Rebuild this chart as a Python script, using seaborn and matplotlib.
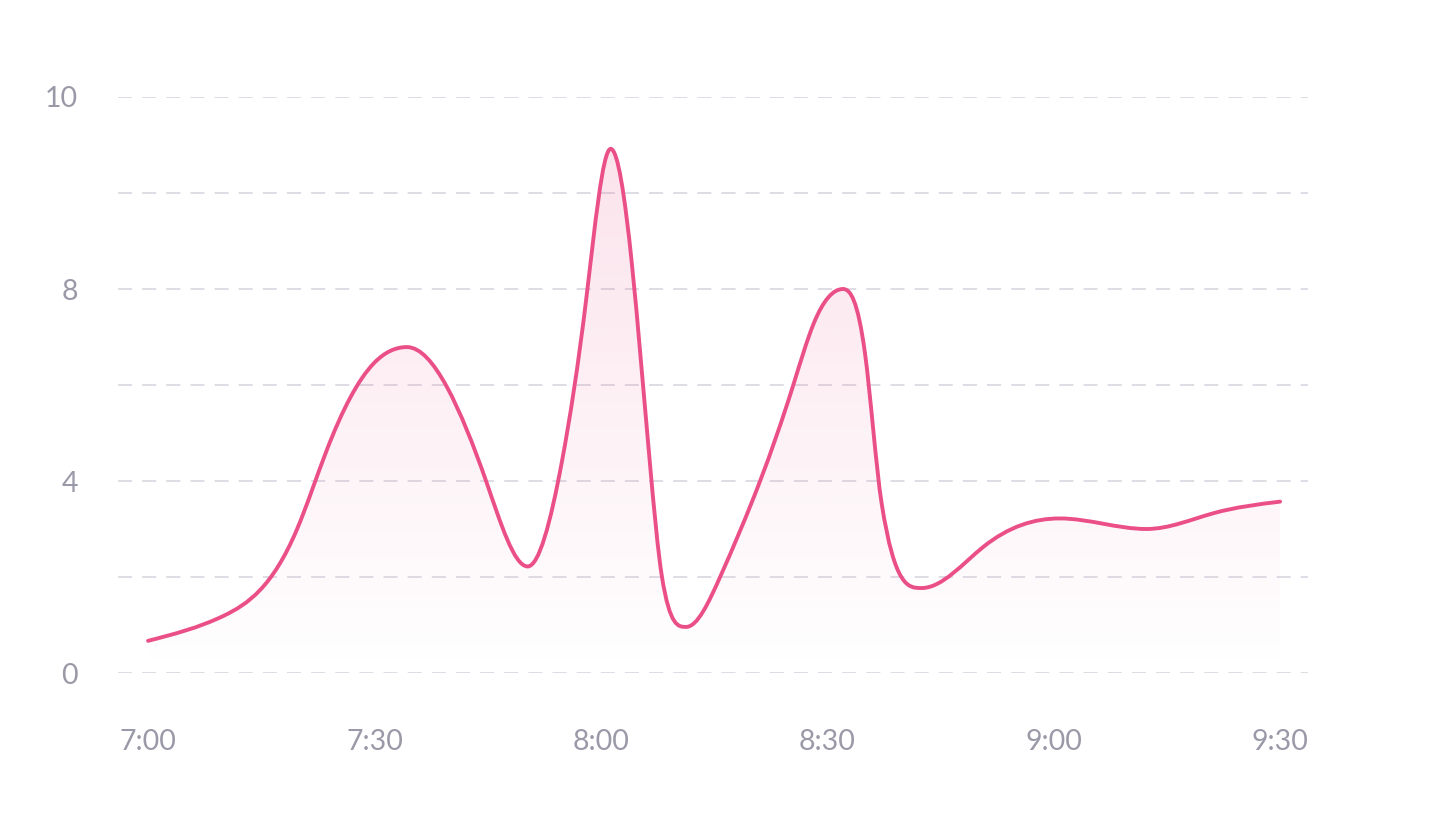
"""Pink smoothed area line: activity between 7:00 and 9:30."""
import matplotlib
matplotlib.use("Agg")

import matplotlib.pyplot as plt  # noqa: E402
import numpy as np  # noqa: E402
import seaborn as sns  # noqa: E402
from matplotlib.colors import to_rgb  # noqa: E402
from matplotlib.patches import PathPatch  # noqa: E402
from matplotlib.path import Path  # noqa: E402

# ── Data (minutes after 7:00, value) ─────────────────────────────────────────
minutes = [0.0, 10.0, 19.7, 23.7, 29.9, 34.3, 39.6, 44.9, 50.3, 54.8,
           58.1, 61.3, 64.1, 66.5, 68.1, 71.3, 75.8, 81.1, 85.5, 88.2,
           92.1, 95.0, 97.2, 102.5, 110.7, 120.8, 132.3, 141.2, 150.0]
values = [0.67, 1.19, 2.98, 4.65, 6.45, 6.79, 5.96, 3.95, 2.22, 4.37,
          7.84, 10.92, 8.54, 4.37, 2.0, 0.96, 2.0, 4.0, 6.0, 7.28,
          8.0, 6.66, 3.54, 1.77, 2.63, 3.22, 3.0, 3.33, 3.57]

x_ticks = [0, 30, 60, 90, 120, 150]
x_labels = ["7:00", "7:30", "8:00", "8:30", "9:00", "9:30"]
y_ticks = [0, 2, 4, 6, 8, 10, 12]
y_labels = ["0", "", "4", "", "8", "", "10"]

LINE = "#eb4f88"
TEXT = "#9a99a8"
GRID = "#d5d3df"


def smooth_path(x, y):
    """Bezier path through the points: C2 spline between extrema, flat at each extremum."""
    x = np.asarray(x, float)
    y = np.asarray(y, float)
    n = len(x)
    h = np.diff(x)
    s = np.diff(y) / h
    A = np.zeros((n, n))
    b = np.zeros(n)
    A[0, :2] = [2, 1]
    b[0] = 3 * s[0]
    A[-1, -2:] = [1, 2]
    b[-1] = 3 * s[-1]
    for i in range(1, n - 1):
        if np.sign(s[i - 1]) != np.sign(s[i]):
            A[i, i] = 1  # local extremum: zero slope
            continue
        A[i, i - 1:i + 2] = [h[i], 2 * (h[i - 1] + h[i]), h[i - 1]]
        b[i] = 3 * (h[i] * s[i - 1] + h[i - 1] * s[i])
    t = np.linalg.solve(A, b)
    # keep each piece monotone
    for i in range(n):
        near = [s[j] for j in (i - 1, i) if 0 <= j < n - 1]
        lim = 3 * min(abs(v) for v in near)
        t[i] = np.clip(t[i], -lim, lim)
    verts = [(x[0], y[0])]
    codes = [Path.MOVETO]
    for i in range(n - 1):
        d = h[i] / 3
        verts += [(x[i] + d, y[i] + d * t[i]), (x[i + 1] - d, y[i + 1] - d * t[i + 1]), (x[i + 1], y[i + 1])]
        codes += [Path.CURVE4] * 3
    return verts, codes


sns.set_theme(style="white")
plt.rcParams["font.family"] = ["Lato", "DejaVu Sans"]

fig = plt.figure(figsize=(14.32, 8.22), dpi=100)
ax = fig.add_axes([118 / 1432, 149 / 822, 1190 / 1432, 576 / 822])

verts, codes = smooth_path(minutes, values)

# gradient area under the curve
area = Path(verts + [(minutes[-1], 0), (minutes[0], 0), verts[0]],
            codes + [Path.LINETO, Path.LINETO, Path.CLOSEPOLY])
area_patch = PathPatch(area, facecolor="none", edgecolor="none")
ax.add_patch(area_patch)
grad = np.zeros((256, 1, 4))
grad[:, 0, :3] = to_rgb(LINE)
grad[:, 0, 3] = np.linspace(0, 0.16, 256)
img = ax.imshow(grad, extent=[minutes[0], minutes[-1], 0, max(values)], origin="lower",
                aspect="auto", interpolation="bilinear", zorder=1)
img.set_clip_path(area_patch)

line = PathPatch(Path(verts, codes), facecolor="none", edgecolor=LINE, lw=2.8,
                 capstyle="round", joinstyle="round", zorder=3, clip_on=False)
ax.add_patch(line)

ax.set_xlim(-3.98, 153.7)
ax.set_ylim(0, 12)
ax.set_xticks(x_ticks, x_labels)
ax.set_yticks(y_ticks, y_labels)
ax.grid(axis="y", color=GRID, lw=1.1, linestyle=(0, (9.2, 6.6)))
ax.grid(axis="x", visible=False)
ax.set_axisbelow(True)
sns.despine(ax=ax, left=True, bottom=True)
ax.tick_params(axis="both", length=0, labelsize=20.5, labelcolor=TEXT)
ax.tick_params(axis="y", pad=28.8)
ax.tick_params(axis="x", pad=40)

fig.savefig("out.png", dpi=100, facecolor="white")
